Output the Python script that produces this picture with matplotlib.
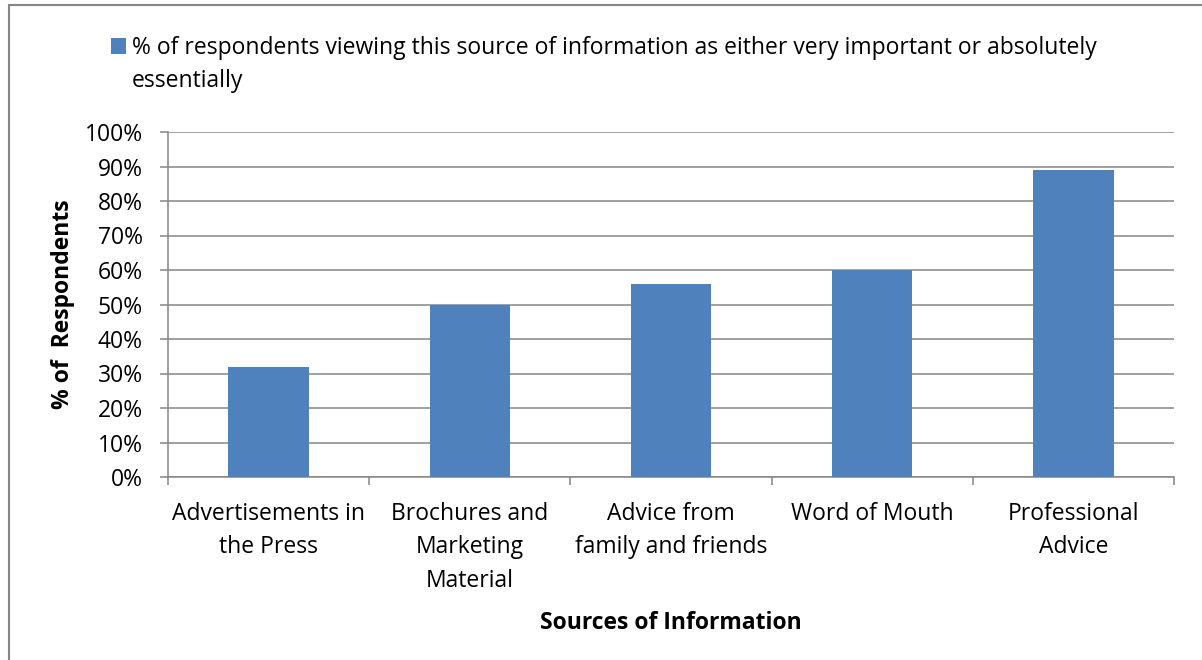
import matplotlib.pyplot as plt
from matplotlib.patches import Rectangle
from matplotlib.ticker import FuncFormatter

plt.rcParams['font.family'] = ['Open Sans', 'DejaVu Sans']

sources = ['Advertisements in\nthe Press', 'Brochures and\nMarketing\nMaterial',
           'Advice from\nfamily and friends', 'Word of Mouth', 'Professional\nAdvice']
percents = [32, 50, 56, 60, 89]
series_label = '% of respondents viewing this source of information as either very important or absolutely'
series_label_cont = 'essentially'

blue = '#4f81bd'
grey = '#868686'
fs = 16.5

fig = plt.figure(figsize=(12.02, 6.6), dpi=100)
ax = fig.add_axes([168 / 1202, 1 - 477 / 660, (1174 - 168) / 1202, (477 - 132) / 660])

bars = ax.bar(range(len(sources)), percents, 0.4, color=blue, zorder=3)

ax.set_ylim(0, 100)
ax.set_xlim(-0.5, len(sources) - 0.5)
ax.set_yticks(range(0, 101, 10))
ax.yaxis.set_major_formatter(FuncFormatter(lambda v, p: '%d%%' % v))
ax.yaxis.grid(True, color=grey, linewidth=1.1)
ax.set_axisbelow(True)

ax.set_xticks(range(len(sources)))
ax.set_xticklabels(sources, linespacing=1.52, va='top')
ax.set_xticks([i - 0.5 for i in range(len(sources) + 1)], minor=True)
ax.tick_params(axis='x', which='major', length=0, pad=18, labelsize=fs)
ax.tick_params(axis='x', which='minor', length=6, width=1.1, color=grey)
ax.tick_params(axis='y', length=6, width=1.1, color=grey, pad=12, labelsize=fs)

for side in ['top', 'right']:
    ax.spines[side].set_visible(False)
for side in ['left', 'bottom']:
    ax.spines[side].set_color(grey)
    ax.spines[side].set_linewidth(1.1)

ax.set_ylabel('% of  Respondents', fontsize=fs, fontweight='bold', labelpad=7)
ax.set_xlabel('Sources of Information', fontsize=fs, fontweight='bold', labelpad=13)

leg = fig.legend([bars], [series_label], loc='upper left', bbox_to_anchor=(111 / 1202, 1 - 36 / 660),
                 frameon=False, fontsize=fs, handlelength=0.65, handleheight=0.65,
                 handletextpad=0.25, borderpad=0, borderaxespad=0)

# second line of the wrapped legend entry, under the first line's text
fig.canvas.draw()
bb = leg.get_texts()[0].get_window_extent()
fig.text(bb.x0 / fig.bbox.width, (bb.y0 - 33) / fig.bbox.height, series_label_cont,
         fontsize=fs, ha='left', va='bottom')

# outer chart border
fig.add_artist(Rectangle((9 / 1202, -0.1), 1.2, 1 - 5 / 660 + 0.1, transform=fig.transFigure,
                         fill=False, edgecolor=grey, linewidth=1.5))

fig.savefig('out.png', dpi=100, facecolor='white')
